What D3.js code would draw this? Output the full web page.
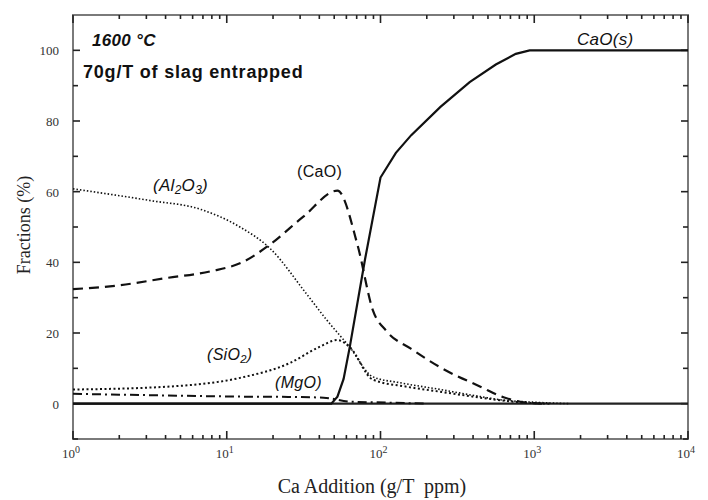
<!DOCTYPE html>
<html lang="en">
<head>
<meta charset="UTF-8">
<title>Ca addition fractions</title>
<script src="https://d3js.org/d3.v7.min.js"></script>
<style>
  body { margin: 0; background: #fff; }
  svg { display: block; }
  .tick-lbl { font-family: "Liberation Serif", serif; font-size: 13px; fill: #333; }
  .ann { font-family: "Liberation Sans", Arial, sans-serif; fill: #111; }
</style>
</head>
<body>
<script>
// data: log10 of Ca addition (g/T) and fraction (%)
var caoSolidX = [0, 1.68, 1.72, 1.76, 1.80, 1.90, 2.00, 2.10, 2.20, 2.39, 2.58, 2.75, 2.88, 2.97, 4.0]
var caoSolidY = [0, 0, 2, 7, 16, 41, 64, 71, 76, 84, 91, 96, 99, 100, 100]

var caoX = [0, 0.3, 0.6, 0.9, 1.1, 1.28, 1.5, 1.72, 1.85, 1.95, 2.04, 2.2, 2.4, 2.65, 2.8, 2.95, 3.05]
var caoY = [32.4, 33.5, 35.5, 37.5, 40, 45, 53, 60.3, 45, 26.5, 20.5, 15.5, 10, 4.8, 1.8, 0.3, 0]

var al2o3X = [0, 0.5, 0.83, 1.086, 1.28, 1.52, 1.65, 1.8, 1.95, 2.13, 2.39, 2.65, 2.8, 3.0, 3.23]
var al2o3Y = [60.8, 57.5, 55, 50, 44, 31, 23.7, 16, 7.6, 5.9, 4, 2, 1, 0.4, 0]

var sio2X = [0, 0.61, 1.086, 1.41, 1.60, 1.72, 1.8, 1.95, 2.17, 2.4, 2.65, 2.85, 3.1]
var sio2Y = [4, 4.8, 7.3, 11.5, 16, 18, 16, 6.8, 4.8, 3.3, 1.7, 0.6, 0]

var mgoX = [0, 0.5, 1.086, 1.4, 1.63, 1.8, 2.05, 2.3]
var mgoY = [2.8, 2.4, 2, 1.9, 1.7, 0.6, 0.3, 0]

var yTicks = [0, 20, 40, 60, 80, 100]
var yTickLabels = ['0', '20', '40', '60', '80', '100']
var yMinor = [-10, 10, 30, 50, 70, 90]
var xDecades = [0, 1, 2, 3, 4]

var w = 708, h = 500
var padL = 73, padR = 688, padT = 15, padB = 439

var svg = d3.select('body').append('svg').attr('width', w).attr('height', h)

var xScale = d3.scaleLog().domain([1, 1e4]).range([padL, padR])
var yScale = d3.scaleLinear().domain([-10, 110]).range([padB, padT])

// frame
svg.append('rect')
  .attr('x', padL).attr('y', padT)
  .attr('width', padR - padL).attr('height', padB - padT)
  .style('fill', 'none').attr('stroke', '#7a7a7a').attr('stroke-width', 2)

var xMajor = xDecades.map(function(d) { return Math.pow(10, d) })
var xMinor = []
for (var dec = 0; dec < 4; dec++) {
  for (var m = 2; m < 10; m++) xMinor.push(m * Math.pow(10, dec))
}

// inward tick marks on all four sides
var tickG = svg.append('g')

function tickLine(x1, y1, x2, y2) {
  tickG.append('line')
    .attr('x1', x1).attr('y1', y1).attr('x2', x2).attr('y2', y2)
    .style('stroke', '#222').style('stroke-width', '1.6px')
}
function xTickMarks(vals, len) {
  vals.forEach(function(v) {
    var x = xScale(v)
    tickLine(x, padB, x, padB - len)
    tickLine(x, padT, x, padT + len)
  })
}
function yTickMarks(vals, len) {
  vals.forEach(function(v) {
    var y = yScale(v)
    tickLine(padL, y, padL + len, y)
    tickLine(padR, y, padR - len, y)
  })
}
xTickMarks(xMajor, 8)
xTickMarks(xMinor, 4)
yTickMarks(yTicks, 7)
yTickMarks(yMinor, 5)

// y tick labels
svg.selectAll('.ylbl').data(yTicks).enter().append('text')
  .attr('class', 'tick-lbl')
  .attr('x', padL - 14)
  .attr('y', function(d) { return yScale(d) + 5 })
  .attr('text-anchor', 'end')
  .text(function(d, i) { return yTickLabels[i] })

// x tick labels 10^n
var xl = svg.selectAll('.xlbl').data(xDecades).enter().append('text')
  .attr('class', 'tick-lbl')
  .attr('x', function(d) { return xScale(Math.pow(10, d)) - 2 })
  .attr('y', padB + 19)
  .attr('text-anchor', 'middle')
xl.append('tspan').text('10')
xl.append('tspan').attr('dy', -5).attr('font-size', 10).text(function(d) { return d })

// axis titles
svg.append('text')
  .attr('x', 372).attr('y', 493)
  .attr('text-anchor', 'middle')
  .style('white-space', 'pre')
  .attr('font-family', 'Liberation Serif, serif').attr('font-size', 20).attr('fill', '#222')
  .text('Ca Addition (g/T  ppm)')

svg.append('text')
  .attr('transform', 'translate(30,' + 225 + ') rotate(-90)')
  .attr('text-anchor', 'middle')
  .attr('font-family', 'Liberation Serif, serif').attr('font-size', 18).attr('fill', '#222')
  .text('Fractions (%)')

// zero reference line
svg.append('line')
  .attr('x1', xScale(1)).attr('x2', xScale(1e4))
  .attr('y1', yScale(0)).attr('y2', yScale(0))
  .attr('stroke', '#222').attr('stroke-width', 2.2)

function zip(xs, ys) { return xs.map(function(x, i) { return [x, ys[i]] }) }

function makeLine(curve) {
  return d3.line()
    .x(function(d) { return xScale(Math.pow(10, d[0])) })
    .y(function(d) { return yScale(d[1]) })
    .curve(curve)
}

var series = [
  { pts: zip(mgoX, mgoY), dash: '9,4,2,4', width: 2, curve: d3.curveMonotoneX },
  { pts: zip(sio2X, sio2Y), dash: '2,2.5', width: 2, curve: d3.curveMonotoneX },
  { pts: zip(al2o3X, al2o3Y), dash: '1.5,2', width: 1.6, curve: d3.curveMonotoneX },
  { pts: zip(caoX, caoY), dash: '10,6', width: 2.2, curve: d3.curveMonotoneX },
  { pts: zip(caoSolidX, caoSolidY), dash: null, width: 2.2, curve: d3.curveLinear }
]

series.forEach(function(s) {
  svg.append('path')
    .attr('d', makeLine(s.curve)(s.pts))
    .attr('fill', 'none')
    .attr('stroke', '#111')
    .attr('stroke-width', s.width)
    .attr('stroke-dasharray', s.dash)
})

// annotations
function ann(x, y, size, weight, style, spacing, parts) {
  var t = svg.append('text').attr('class', 'ann')
    .attr('x', x).attr('y', y)
    .attr('font-size', size).attr('font-weight', weight).attr('font-style', style)
    .attr('letter-spacing', spacing)
  parts.forEach(function(p) {
    var ts = t.append('tspan').text(p[0])
    if (p[1] === 'sub') ts.attr('font-size', size * 0.7).attr('dy', 3)
    if (p[1] === 'back') ts.attr('dy', -3)
  })
}

ann(92, 46, 17, 'bold', 'italic', 0.3, [['1600 °C']])
ann(83, 78, 18, 'bold', 'normal', 0.8, [['70g/T of slag entrapped']])
ann(577, 45, 17, 'normal', 'italic', 0.3, [['CaO(s)']])
ann(153, 191, 17, 'normal', 'italic', 0.3, [['(Al'], ['2', 'sub'], ['O', 'back'], ['3', 'sub'], [')', 'back']])
ann(297, 177, 16, 'normal', 'normal', 0.3, [['(CaO)']])
ann(207, 360, 16, 'normal', 'italic', 0.3, [['(SiO'], ['2', 'sub'], [')', 'back']])
ann(275, 388, 16, 'normal', 'italic', 0.3, [['(MgO)']])
</script>
</body>
</html>
